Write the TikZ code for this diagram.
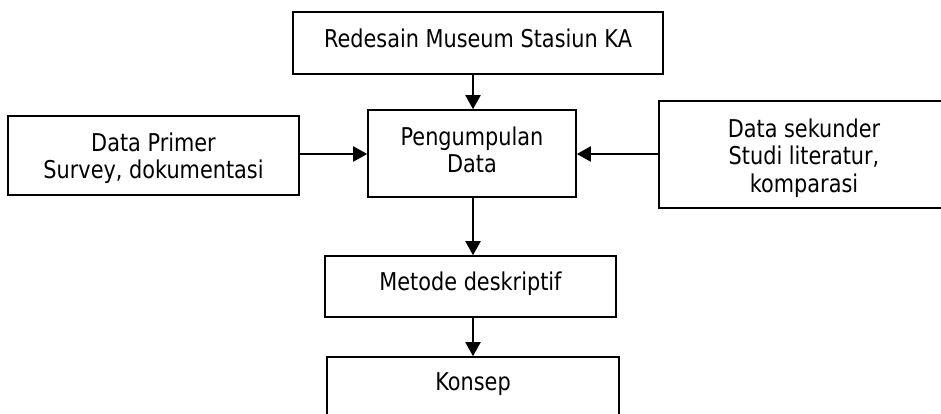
\documentclass[tikz,border=0pt]{standalone}
\usepackage{fontspec}
\setmainfont{DejaVu Sans}[FakeStretch=0.85]
\usetikzlibrary{arrows.meta}
\tikzset{
  box/.style={draw=black, line width=1.6pt, rectangle, inner sep=0pt, fill=white},
  txt/.style={font=\fontsize{24.5}{27.5}\selectfont, align=center, inner sep=0pt, text=black},
  arr/.style={line width=2pt, -{Triangle[length=14pt,width=15pt]}},
}
\begin{document}
\begin{tikzpicture}[x=1pt,y=-1pt]
\useasboundingbox (0,0) rectangle (941,414);
\clip (0,0) rectangle (941,414);
\fill[white] (0,0) rectangle (941,414);
% boxes
\node[box, minimum width=370pt, minimum height=62pt] (top) at (478,43) {};
\node[box, minimum width=208pt, minimum height=87pt] (peng) at (472,153.5) {};
\node[box, minimum width=291pt, minimum height=79pt] (prim) at (153.5,155.5) {};
\node[box, minimum width=290pt, minimum height=107pt] (sek) at (804,154.5) {};
\node[box, minimum width=291pt, minimum height=61pt] (met) at (470.5,286.5) {};
\node[box, minimum width=292pt, minimum height=64pt] (kon) at (473,389) {};
% texts
\node[txt] (topT) at (478,38.5) {Redesain Museum Stasiun KA};
\node[txt] (pengT) at (472,150) {Pengumpulan\\Data};
\node[txt] (primT) at (153.5,158) {Data Primer\\Survey, dokumentasi};
\node[txt] (sekT) at (804,158) {Data sekunder\\Studi literatur,\\komparasi};
\node[txt] (metT) at (470.5,284) {Metode deskriptif};
\node[txt] (konT) at (473,384) {Konsep};
% connectors
\draw[arr] (top.south -| 473,0) -- (peng.north -| 473,0);
\draw[arr] (peng.south -| 473,0) -- (met.north -| 473,0);
\draw[arr] (met.south -| 473,0) -- (kon.north -| 473,0);
\draw[arr] (prim.east |- 0,154) -- (peng.west |- 0,154);
\draw[arr] (sek.west |- 0,154) -- (peng.east |- 0,154);
\end{tikzpicture}
\end{document}
